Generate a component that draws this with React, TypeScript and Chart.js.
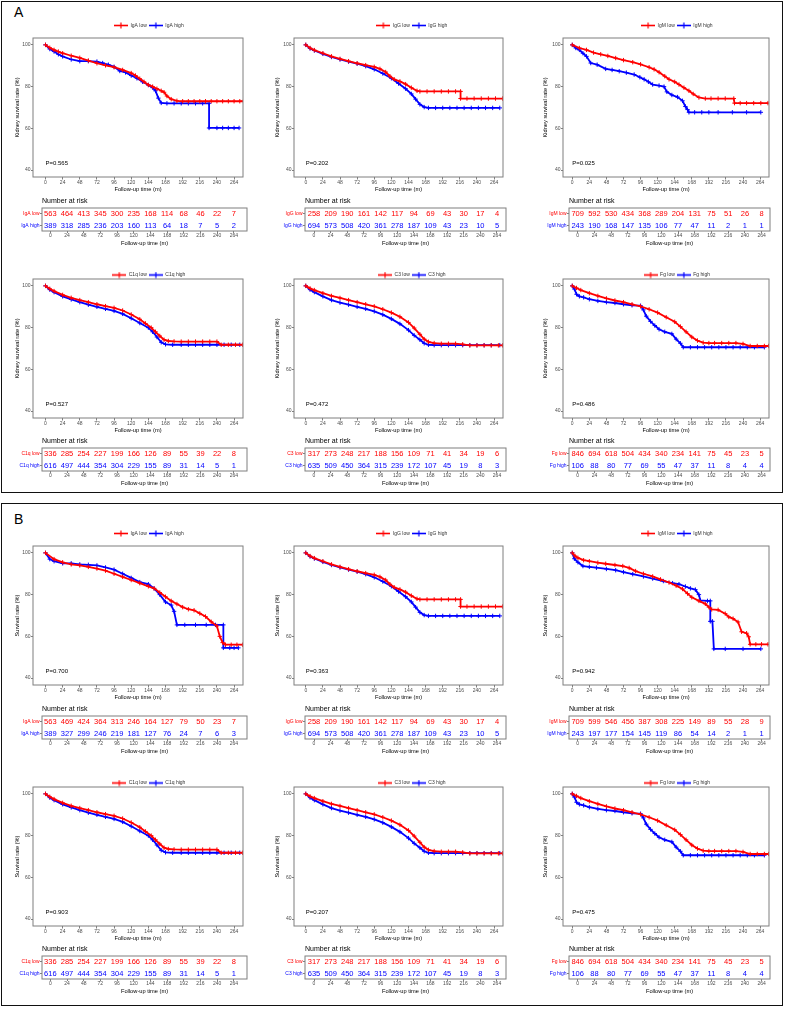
import React, { useEffect, useRef } from 'react';
import { Chart, registerables } from 'chart.js';

Chart.register(...registerables);
Chart.defaults.font.family = "'Liberation Sans', Arial, Helvetica, sans-serif";

const RED = '#ff0000';
const BLUE = '#0000ff';
const FRAME = '#7f7f7f';
const TICKTXT = '#4d4d4d';

// ---------- axes ----------
const timeTicks = [0, 24, 48, 72, 96, 120, 144, 168, 192, 216, 240, 264];
const survTicks = [40, 60, 80, 100];
const markers = ['IgA', 'IgG', 'IgM', 'C1q', 'C3', 'Fg'];
const pKidney = ['0.565', '0.202', '0.025', '0.527', '0.472', '0.486'];
const pSurvival = ['0.700', '0.363', '0.942', '0.903', '0.207', '0.475'];

// ---------- curves (month, %) : A = kidney survival ----------
const kidneyIgALow = [[0,100],[6,98.6],[12,97.6],[18,96.8],[24,96],[36,94.8],[48,93.8],[60,92.5],[72,91.2],[84,90.2],[96,89.3],[108,88],[120,86.5],[126,85.3],[132,83.8],[138,82.3],[144,80.8],[150,80],[156,79],[162,78],[166,77.3],[170,75.5],[176,74],[184,73.2],[192,73],[200,73],[208,73],[216,73],[224,73],[232,73],[240,73],[248,73],[256,73],[264,73],[272,73],[277,73]];
const kidneyIgAHigh = [[0,100],[6,98],[12,96.8],[18,95.5],[24,94.5],[36,93],[48,92.2],[60,92.2],[72,92],[80,91.3],[88,90.5],[96,89.5],[104,87.5],[112,86.8],[120,85.3],[128,84],[136,82.3],[144,80.8],[150,79.5],[154,78],[158,74.5],[162,72.2],[170,72],[180,72],[190,72],[200,72],[210,72],[220,72],[229,72],[229,60.2],[240,60.2],[248,60.2],[256,60.2],[264,60.2],[271,60.2]];
const kidneyIgGLow = [[0,100],[6,98.5],[12,97.5],[24,96],[36,94.5],[48,93.3],[60,92.2],[72,91.2],[84,90.3],[96,89.5],[104,88.5],[112,87],[118,85],[124,83.5],[132,82.5],[140,81.2],[148,79.5],[156,78],[160,77.7],[170,77.7],[180,77.7],[190,77.7],[200,77.7],[210,77.7],[217,77.7],[217,74.3],[226,74.3],[236,74.3],[246,74.3],[256,74.3],[266,74.3],[276,74.3]];
const kidneyIgGHigh = [[0,100],[6,98.3],[12,97.3],[24,95.7],[36,94.2],[48,93],[60,92],[72,91],[84,89.8],[96,88.3],[108,86.3],[120,84],[130,81.5],[140,79],[148,76.5],[154,74],[160,71.5],[166,70.2],[172,69.8],[182,69.8],[192,69.8],[202,69.8],[212,69.8],[222,69.8],[232,69.8],[242,69.8],[252,69.8],[262,69.8],[272,69.8]];
const kidneyIgMLow = [[0,100],[10,98.5],[20,97.6],[30,96.3],[40,95.5],[50,94.7],[61,93.7],[72,92.7],[85,91.7],[96,90.7],[108,89.3],[115,88.3],[122,86.9],[130,85],[136,83.5],[144,82.3],[150,81],[157,79.5],[164,78],[170,76.5],[178,74.8],[187,74.3],[195,74.3],[205,74.3],[215,74.3],[227,74.3],[228,72.1],[236,72.1],[245,72.1],[255,72.1],[265,72.1],[275,72.1]];
const kidneyIgMHigh = [[0,100],[5,98.5],[10,97.6],[15,96],[20,94.5],[26,91.3],[35,90.5],[47,88.5],[56,88],[66,87.4],[76,86.7],[87,85.8],[95,84.5],[101,83.5],[107,82.3],[113,81],[122,80.5],[129,80],[133,77.5],[140,76],[148,75],[155,73.2],[159,70.5],[162,69],[164,67.7],[172,67.7],[182,67.7],[192,67.7],[205,67.7],[225,67.7],[245,67.7],[265,67.7]];
const kidneyC1qLow = [[0,100],[6,98.6],[12,97.5],[24,95.7],[36,94.3],[48,93.2],[60,92.2],[72,91.2],[84,90.3],[96,89.5],[108,88.2],[120,86.3],[132,84],[140,82],[148,80],[154,78],[160,76],[166,74.2],[172,73.6],[180,73.4],[190,73.3],[200,73.3],[210,73.3],[220,73.3],[230,73.3],[240,73.3],[246,71.8],[256,71.8],[266,71.8],[276,71.8]];
const kidneyC1qHigh = [[0,100],[6,98.2],[12,97],[24,95],[36,93.5],[48,92.2],[60,91],[72,90],[84,89],[96,88],[108,86.6],[120,84.5],[132,82.2],[144,80],[150,78],[156,75.5],[162,73],[168,72],[178,71.8],[190,71.8],[200,71.8],[210,71.8],[220,71.8],[230,71.8],[240,71.8],[250,71.8],[260,71.8],[272,71.8]];
const kidneyC3Low = [[0,100],[6,98.8],[12,98],[24,96.5],[36,95.2],[48,94.2],[60,93.2],[72,92.2],[84,91.2],[96,90.2],[108,88.8],[120,87.2],[132,85.2],[144,82.5],[152,79.8],[160,76.8],[166,74.5],[172,73.2],[180,72.6],[190,72.3],[200,72.3],[210,72.3],[220,72],[230,71.5],[240,71.5],[250,71.5],[260,71.5],[270,71.5],[276,71.5]];
const kidneyC3High = [[0,100],[6,98.2],[12,97],[24,95],[36,93.2],[48,92],[60,91],[72,90],[84,89],[96,87.8],[108,86.2],[120,84.2],[132,81.8],[144,78.8],[152,76.3],[160,74.2],[166,72.5],[172,71.8],[180,71.6],[190,71.6],[200,71.6],[210,71.6],[220,71.6],[230,71.6],[240,71.6],[250,71.6],[260,71.6],[272,71.6]];
const kidneyFgLow = [[0,100],[6,99],[12,98],[24,96.5],[36,95.2],[48,94],[60,93],[72,92.2],[84,91.2],[96,90.2],[108,88.8],[120,87.2],[132,85],[144,82.8],[152,80.5],[160,78],[168,75.5],[176,73.8],[184,72.8],[192,72.6],[200,72.6],[210,72.6],[220,72.6],[230,72.6],[240,72.2],[250,71.2],[260,71.2],[270,71.2],[276,71.2]];
const kidneyFgHigh = [[0,100],[3,98.5],[6,96],[10,95],[16,94.5],[24,93.6],[36,92.8],[48,92.2],[60,91.8],[72,91.2],[84,90.7],[96,90.5],[100,88.5],[104,85.5],[110,83],[116,81],[122,79.2],[130,78],[140,77],[146,74.5],[152,72.5],[156,70.6],[166,70.6],[176,70.6],[186,70.6],[196,70.6],[206,70.6],[216,70.6],[226,70.6],[236,70.6],[246,70.6],[256,70.6],[270,70.6]];

// ---------- curves : B = overall survival ----------
const survivalIgALow = [[0,100],[12,97],[24,95.5],[36,94.5],[48,94],[60,93.3],[72,92.5],[84,91.5],[96,90],[108,88.5],[120,87],[132,85.5],[144,84],[152,83],[160,81],[168,79],[176,77],[184,75.5],[192,74],[200,73],[208,72.5],[216,71],[224,69.5],[232,67],[240,65],[244,60],[248,57],[252,56],[260,56],[268,56],[276,56]];
const survivalIgAHigh = [[0,100],[6,97],[12,96],[24,95],[36,95],[48,94.5],[60,94.3],[72,94],[84,93],[96,92],[108,90],[120,88],[132,86],[144,85],[152,83],[160,80],[168,76.5],[176,75],[180,72],[184,65.5],[195,65.5],[210,65.5],[225,65.5],[238,65.5],[249,65.5],[249,54.5],[258,54.5],[264,54.5],[270,54.5]];
const survivalIgGLow = kidneyIgGLow;
const survivalIgGHigh = kidneyIgGHigh;
const survivalIgMLow = [[0,100],[4,98.5],[8,97.6],[16,96.5],[24,96],[36,95.3],[47,94.8],[60,94.2],[71,93.7],[80,92.8],[89,91.3],[100,90],[113,88.7],[124,87.3],[136,85.8],[146,84.3],[155,82.7],[162,80.5],[168,78.7],[178,77],[187,75.6],[192,74],[196,72.9],[205,72.7],[215,70.9],[220,69.3],[226,68.5],[233,66.9],[238,62.2],[245,61.5],[248,59.8],[250,56.2],[258,56.2],[266,56.2],[275,56.2]];
const survivalIgMHigh = [[0,100],[3,97.2],[8,95.5],[15,93.7],[24,93.3],[34,92.9],[48,92.3],[61,91.7],[72,90.8],[85,89.8],[100,88.7],[113,87.7],[128,86.5],[141,85.5],[150,85],[159,83.9],[166,83],[173,82.4],[178,80],[180,77.2],[190,77],[194,77],[194,67.2],[197,67.2],[199,54],[215,54],[240,54],[265,54]];
const survivalC1qLow = kidneyC1qLow;
const survivalC1qHigh = kidneyC1qHigh;
const survivalC3Low = kidneyC3Low;
const survivalC3High = kidneyC3High;
const survivalFgLow = kidneyFgLow;
const survivalFgHigh = kidneyFgHigh;

// ---------- numbers at risk ----------
const riskKidneyIgALow = [563, 464, 413, 345, 300, 235, 168, 114, 68, 46, 22, 7];
const riskKidneyIgAHigh = [389, 318, 285, 236, 203, 160, 113, 64, 18, 7, 5, 2];
const riskIgGLow = [258, 209, 190, 161, 142, 117, 94, 69, 43, 30, 17, 4];
const riskIgGHigh = [694, 573, 508, 420, 361, 278, 187, 109, 43, 23, 10, 5];
const riskKidneyIgMLow = [709, 592, 530, 434, 368, 289, 204, 131, 75, 51, 26, 8];
const riskKidneyIgMHigh = [243, 190, 168, 147, 135, 106, 77, 47, 11, 2, 1, 1];
const riskC1qLow = [336, 285, 254, 227, 199, 166, 126, 89, 55, 39, 22, 8];
const riskC1qHigh = [616, 497, 444, 354, 304, 229, 155, 89, 31, 14, 5, 1];
const riskC3Low = [317, 273, 248, 217, 188, 156, 109, 71, 41, 34, 19, 6];
const riskC3High = [635, 509, 450, 364, 315, 239, 172, 107, 45, 19, 8, 3];
const riskFgLow = [846, 694, 618, 504, 434, 340, 234, 141, 75, 45, 23, 5];
const riskFgHigh = [106, 88, 80, 77, 69, 55, 47, 37, 11, 8, 4, 4];
const riskSurvivalIgALow = [563, 469, 424, 364, 313, 246, 164, 127, 79, 50, 23, 7];
const riskSurvivalIgAHigh = [389, 327, 299, 246, 219, 181, 127, 76, 24, 7, 6, 3];
const riskSurvivalIgMLow = [709, 599, 546, 456, 387, 308, 225, 149, 89, 55, 28, 9];
const riskSurvivalIgMHigh = [243, 197, 177, 154, 145, 119, 86, 54, 14, 2, 1, 1];

// ---------- layout geometry ----------
const COLS = [
  { left: 0, plotL: 33, plotR: 243, yTitleX: 17, legendC: 149, tabL: 42, tabR: 247, xMin: -17.5, tMin: -12, tMax: 283 },
  { left: 260, plotL: 294, plotR: 503, yTitleX: 277, legendC: 412, tabL: 305, tabR: 506, xMin: -16.5, tMin: -13, tMax: 277 },
  { left: 520, plotL: 563, plotR: 769, yTitleX: 545, legendC: 677, tabL: 569, tabR: 770, xMin: -13, tMin: -12.5, tMax: 276 },
];
const ROWS = [
  { plotT: 38, plotB: 177, legendGap: 13, xTitleY: 189, tabT: 208, tabB: 231, tabTitleY: 243 },
  { plotT: 279, plotB: 418, legendGap: 4, xTitleY: 430, tabT: 448, tabB: 471, tabTitleY: 483 },
];
const SECTION_Y = [0, 508];
const X_MAX = 276.5;
const TITLE_FONT = 5.7;

const curvesA = [[kidneyIgALow, kidneyIgAHigh], [kidneyIgGLow, kidneyIgGHigh], [kidneyIgMLow, kidneyIgMHigh], [kidneyC1qLow, kidneyC1qHigh], [kidneyC3Low, kidneyC3High], [kidneyFgLow, kidneyFgHigh]];
const curvesB = [[survivalIgALow, survivalIgAHigh], [survivalIgGLow, survivalIgGHigh], [survivalIgMLow, survivalIgMHigh], [survivalC1qLow, survivalC1qHigh], [survivalC3Low, survivalC3High], [survivalFgLow, survivalFgHigh]];
const risksA = [[riskKidneyIgALow, riskKidneyIgAHigh], [riskIgGLow, riskIgGHigh], [riskKidneyIgMLow, riskKidneyIgMHigh], [riskC1qLow, riskC1qHigh], [riskC3Low, riskC3High], [riskFgLow, riskFgHigh]];
const risksB = [[riskSurvivalIgALow, riskSurvivalIgAHigh], [riskIgGLow, riskIgGHigh], [riskSurvivalIgMLow, riskSurvivalIgMHigh], [riskC1qLow, riskC1qHigh], [riskC3Low, riskC3High], [riskFgLow, riskFgHigh]];

const panels: any[] = [];
[0, 1].forEach((sec) => {
  markers.forEach((m, i) => {
    panels.push({
      key: `${sec}-${i}`,
      sec,
      row: Math.floor(i / 3),
      col: i % 3,
      marker: m,
      curves: sec === 0 ? curvesA[i] : curvesB[i],
      risks: sec === 0 ? risksA[i] : risksB[i],
      p: 'P=' + (sec === 0 ? pKidney[i] : pSurvival[i]),
      yTitle: sec === 0 ? 'Kidney survival rate (%)' : 'Survival rate (%)',
    });
  });
});

function makeMarker(color: string) {
  const c = document.createElement('canvas');
  c.width = 14;
  c.height = 7;
  const g = c.getContext('2d') as CanvasRenderingContext2D;
  g.strokeStyle = color;
  g.lineWidth = 1.6;
  g.beginPath();
  g.moveTo(0, 3.5);
  g.lineTo(14, 3.5);
  g.stroke();
  g.lineWidth = 1.2;
  g.beginPath();
  g.moveTo(7, 0.5);
  g.lineTo(7, 6.5);
  g.moveTo(4, 3.5);
  g.lineTo(10, 3.5);
  g.stroke();
  return c;
}

const framePlugin = {
  id: 'frame',
  afterDatasetsDraw(chart: any) {
    const { ctx, chartArea } = chart;
    ctx.save();
    ctx.strokeStyle = FRAME;
    ctx.lineWidth = 1;
    ctx.strokeRect(chartArea.left, chartArea.top, chartArea.right - chartArea.left, chartArea.bottom - chartArea.top);
    ctx.restore();
  },
};

function KMChart({ p }: any) {
  const ref = useRef<HTMLCanvasElement>(null);
  const col = COLS[p.col];
  const rg = ROWS[p.row];
  const yOff = SECTION_Y[p.sec];
  const plotT = rg.plotT + yOff;
  const plotB = rg.plotB + yOff;
  const top = plotT - 24;
  const legendH = Math.min(17, rg.legendGap + 4.5);
  const padT = 24 - legendH;
  const chartBotRel = plotB - top;
  const xTitleRel = rg.xTitleY + yOff - top;
  const xScaleBottom = xTitleRel + (TITLE_FONT * 1.2) / 2;
  const H = Math.ceil(xScaleBottom + 1);
  const padB = H - xScaleBottom;
  const xH = xScaleBottom - chartBotRel;
  const padL = col.yTitleX - col.left - (TITLE_FONT * 1.2) / 2;
  const yW = col.plotL - col.left - padL;
  const W = Math.round(2 * (col.legendC - col.left) - padL);
  const padW = W - (col.plotR - col.left);

  useEffect(() => {
    const [low, high] = p.curves;
    const pText = p.p;
    const pvalPlugin = {
      id: 'pval',
      afterDraw(chart: any) {
        const { ctx, scales } = chart;
        ctx.save();
        ctx.font = "6px 'Liberation Sans', Arial, sans-serif";
        ctx.fillStyle = '#000';
        ctx.textAlign = 'left';
        ctx.textBaseline = 'middle';
        ctx.fillText(pText, scales.x.getPixelForValue(0), scales.y.getPixelForValue(43.3));
        ctx.restore();
      },
    };
    const mk = (label: string, pts: number[][], color: string) => ({
      label,
      data: pts.map(([x, y]) => ({ x, y })),
      borderColor: color,
      backgroundColor: color,
      borderWidth: 1.8,
      pointStyle: 'cross',
      pointRadius: 2.2,
      pointBorderWidth: 1,
      pointBorderColor: color,
      pointHoverRadius: 2.2,
      tension: 0,
      fill: false,
    });
    const chart = new Chart(ref.current as HTMLCanvasElement, {
      type: 'line',
      data: {
        datasets: [mk(`${p.marker} low`, low, RED), mk(`${p.marker} high`, high, BLUE)],
      },
      options: {
        responsive: false,
        animation: false,
        devicePixelRatio: 1,
        events: [],
        layout: { padding: { left: padL, right: 0, top: padT, bottom: padB } },
        plugins: {
          legend: {
            display: true,
            position: 'top',
            align: 'center',
            maxHeight: legendH,
            labels: {
              usePointStyle: true,
              pointStyleWidth: 14,
              boxHeight: 5,
              padding: 2,
              font: { size: 5 },
              color: '#333',
              generateLabels: (c: any) =>
                c.data.datasets.map((ds: any, i: number) => ({
                  text: ds.label,
                  pointStyle: makeMarker(ds.borderColor),
                  fillStyle: ds.borderColor,
                  strokeStyle: ds.borderColor,
                  lineWidth: 0,
                  hidden: false,
                  datasetIndex: i,
                  fontColor: '#333',
                })),
            },
          },
          tooltip: { enabled: false },
        },
        scales: {
          x: {
            type: 'linear',
            min: col.xMin,
            max: X_MAX,
            afterBuildTicks: (s: any) => {
              s.ticks = timeTicks.map((v) => ({ value: v }));
            },
            afterFit: (s: any) => {
              s.height = xH;
            },
            ticks: { font: { size: 5 }, color: TICKTXT, padding: 0.5, maxRotation: 0, autoSkip: false, callback: (v: any) => String(v) },
            grid: { drawOnChartArea: false, drawTicks: true, tickLength: 2.5, color: FRAME },
            border: { display: false },
            title: { display: true, text: 'Follow-up time (m)', font: { size: TITLE_FONT }, color: '#000', padding: 0 },
          },
          y: {
            type: 'linear',
            min: 36.7,
            max: 103.3,
            afterBuildTicks: (s: any) => {
              s.ticks = survTicks.map((v) => ({ value: v }));
            },
            afterFit: (s: any) => {
              s.width = yW;
            },
            ticks: { font: { size: 5 }, color: TICKTXT, padding: 0.5, callback: (v: any) => String(v) },
            grid: { drawOnChartArea: false, drawTicks: true, tickLength: 2, color: FRAME },
            border: { display: false },
            title: { display: true, text: p.yTitle, font: { size: TITLE_FONT }, color: '#000', padding: 0 },
          },
          pad: {
            type: 'linear',
            position: 'right',
            display: true,
            ticks: { display: false },
            grid: { display: false, drawTicks: false },
            border: { display: false },
            afterFit: (s: any) => {
              s.width = padW;
            },
          },
        },
      } as any,
      plugins: [framePlugin, pvalPlugin],
    } as any);
    return () => chart.destroy();
  }, []);

  return (
    <canvas
      ref={ref}
      width={W}
      height={H}
      style={{ position: 'absolute', left: col.left, top, width: W, height: H }}
    />
  );
}

const countsPlugin = {
  id: 'counts',
  afterDatasetsDraw(chart: any) {
    const { ctx } = chart;
    ctx.save();
    ctx.font = "7.5px 'Liberation Sans', Arial, sans-serif";
    ctx.textAlign = 'center';
    ctx.textBaseline = 'middle';
    chart.data.datasets.forEach((ds: any, i: number) => {
      const meta = chart.getDatasetMeta(i);
      ctx.fillStyle = ds.textColor;
      meta.data.forEach((el: any, j: number) => {
        ctx.fillText(String(ds.counts[j]), el.x, el.y + 0.5);
      });
    });
    ctx.restore();
  },
};

function RiskTable({ p }: any) {
  const ref = useRef<HTMLCanvasElement>(null);
  const col = COLS[p.col];
  const rg = ROWS[p.row];
  const yOff = SECTION_Y[p.sec];
  const top = rg.tabT + yOff - 14;
  const chartBotRel = rg.tabB - rg.tabT + 14;
  const xTitleRel = rg.tabTitleY + yOff - top;
  const xScaleBottom = xTitleRel + (TITLE_FONT * 1.2) / 2;
  const H = Math.ceil(xScaleBottom + 1);
  const padB = H - xScaleBottom;
  const xH = xScaleBottom - chartBotRel;
  const yW = col.tabL - col.left;
  const W = col.tabR - col.left + 2;

  useEffect(() => {
    const [lowR, highR] = p.risks;
    const lowLabel = `${p.marker} low`;
    const highLabel = `${p.marker} high`;
    const chart = new Chart(ref.current as HTMLCanvasElement, {
      type: 'scatter',
      data: {
        datasets: [
          { label: lowLabel, data: timeTicks.map((t) => ({ x: t, y: lowLabel })), counts: lowR, textColor: RED, pointRadius: 0 },
          { label: highLabel, data: timeTicks.map((t) => ({ x: t, y: highLabel })), counts: highR, textColor: BLUE, pointRadius: 0 },
        ],
      },
      options: {
        responsive: false,
        animation: false,
        devicePixelRatio: 1,
        events: [],
        layout: { padding: { left: 0, right: 2, top: 2.8, bottom: padB } },
        plugins: {
          legend: { display: false },
          tooltip: { enabled: false },
          title: {
            display: true,
            text: 'Number at risk',
            align: 'start',
            fullSize: false,
            font: { size: 7, weight: 'normal' },
            color: '#000',
            padding: { top: 0, bottom: 2.8 },
          },
        },
        scales: {
          x: {
            type: 'linear',
            min: col.tMin,
            max: col.tMax,
            afterBuildTicks: (s: any) => {
              s.ticks = timeTicks.map((v) => ({ value: v }));
            },
            afterFit: (s: any) => {
              s.height = xH;
            },
            ticks: { font: { size: 5 }, color: TICKTXT, padding: 0, maxRotation: 0, autoSkip: false, callback: (v: any) => String(v) },
            grid: { drawOnChartArea: false, drawTicks: true, tickLength: 2, color: FRAME },
            border: { display: false },
            title: { display: true, text: 'Follow-up time (m)', font: { size: TITLE_FONT }, color: '#000', padding: 0 },
          },
          y: {
            type: 'category',
            labels: [lowLabel, highLabel],
            offset: true,
            afterFit: (s: any) => {
              s.width = yW;
            },
            ticks: { font: { size: 5 }, color: (c: any) => (c.index === 0 ? RED : BLUE), padding: 0.5 },
            grid: { drawOnChartArea: false, drawTicks: true, tickLength: 2, color: FRAME },
            border: { display: false },
          },
        },
      } as any,
      plugins: [framePlugin, countsPlugin],
    } as any);
    return () => chart.destroy();
  }, []);

  return (
    <canvas
      ref={ref}
      width={W}
      height={H}
      style={{ position: 'absolute', left: col.left, top, width: W, height: H }}
    />
  );
}

export default function App() {
  return (
    <div
      style={{
        position: 'absolute',
        left: 0,
        top: 0,
        width: 785,
        height: 1009,
        overflow: 'hidden',
        background: '#fff',
        fontFamily: "'Liberation Sans', Arial, sans-serif",
      }}
    >
      <div style={{ position: 'absolute', left: 1, top: 1, width: 780, height: 490, border: '1.5px solid #111' }} />
      <div style={{ position: 'absolute', left: 1, top: 503, width: 780, height: 501, border: '1.5px solid #111' }} />
      <div style={{ position: 'absolute', left: 14, top: 4, fontSize: 14, color: '#000' }}>A</div>
      <div style={{ position: 'absolute', left: 14, top: 511, fontSize: 14, color: '#000' }}>B</div>
      {panels.map((p) => (
        <React.Fragment key={p.key}>
          <KMChart p={p} />
          <RiskTable p={p} />
        </React.Fragment>
      ))}
    </div>
  );
}
